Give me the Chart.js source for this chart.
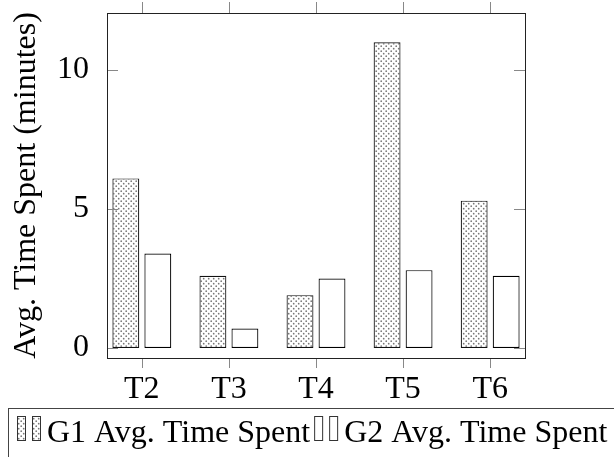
<!DOCTYPE html>
<html>
<head>
<meta charset="utf-8">
<script src="https://cdn.jsdelivr.net/npm/chart.js@4"></script>
<style>
  html, body { margin: 0; padding: 0; background: #fff; }
</style>
</head>
<body>
<canvas id="chart" width="614" height="457"></canvas>
<script>
const tasks = ['T2', 'T3', 'T4', 'T5', 'T6'];
const g1Time = [6.1, 2.6, 1.9, 11.0, 5.3];
const g2Time = [3.4, 0.7, 2.5, 2.8, 2.6];
const yTicks = [0, 5, 10];
const seriesNames = ['G1 Avg. Time Spent', 'G2 Avg. Time Spent'];

const serif = '"Liberation Serif", "DejaVu Serif", serif';

// dotted fill like the pgfplots "crosshatch dots" pattern
function makeDots() {
  const c = document.createElement('canvas');
  c.width = 5; c.height = 5;
  const g = c.getContext('2d');
  g.fillStyle = '#fff';
  g.fillRect(0, 0, 5, 5);
  g.fillStyle = '#777';
  [[1.2, 1.2], [3.7, 3.7]].forEach(p => {
    g.beginPath();
    g.arc(p[0], p[1], 0.85, 0, Math.PI * 2);
    g.fill();
  });
  return document.getElementById('chart').getContext('2d').createPattern(c, 'repeat');
}
const dots = makeDots();
const fills = [dots, '#fff'];

//============= frame, ticks and legend ===========
const framePlugin = {
  id: 'frame',
  afterDatasetsDraw(chart) {
    const ctx = chart.ctx;
    const a = chart.chartArea;
    const xs = chart.scales.x, ys = chart.scales.y;
    ctx.save();
    ctx.lineWidth = 1;
    ctx.strokeStyle = '#888';
    ctx.beginPath();
    tasks.forEach((t, i) => {
      const px = Math.round(xs.getPixelForValue(i)) + 0.5;
      ctx.moveTo(px, a.bottom); ctx.lineTo(px, a.bottom + 10);
      ctx.moveTo(px, a.top); ctx.lineTo(px, a.top - 11);
    });
    yTicks.forEach(v => {
      const py = Math.round(ys.getPixelForValue(v)) + 0.5;
      ctx.moveTo(a.left, py); ctx.lineTo(a.left + 11, py);
      ctx.moveTo(a.right, py); ctx.lineTo(a.right - 11, py);
    });
    ctx.stroke();
    ctx.strokeStyle = '#222';
    ctx.strokeRect(Math.round(a.left) + 0.5, Math.round(a.top) + 0.5,
      Math.round(a.right - a.left), Math.round(a.bottom - a.top));

    // legend
    const top = 408;
    ctx.strokeStyle = '#444';
    ctx.strokeRect(8.5, top + 0.5, 700, 100);
    ctx.font = '32px ' + serif;
    ctx.textBaseline = 'alphabetic';
    ctx.fillStyle = '#000';
    let x = 17;
    seriesNames.forEach((name, k) => {
      [0, 15].forEach(dx => {
        ctx.fillStyle = fills[k];
        ctx.fillRect(x + dx, top + 8, 9, 25);
        ctx.strokeStyle = '#333';
        ctx.strokeRect(x + dx + 0.5, top + 8.5, 8, 24);
      });
      ctx.fillStyle = '#000';
      ctx.fillText(name, x + 30, top + 34);
      x += 30 + ctx.measureText(name).width + 4;
    });
    ctx.restore();
  }
};

new Chart(document.getElementById('chart'), {
  type: 'bar',
  data: {
    datasets: [
      {
        label: seriesNames[0],
        data: g1Time.map((v, i) => ({ x: i, y: v })),
        backgroundColor: dots,
        borderColor: '#111',
        borderWidth: 1.2,
        borderSkipped: false
      },
      {
        label: seriesNames[1],
        data: g2Time.map((v, i) => ({ x: i, y: v })),
        backgroundColor: '#fff',
        borderColor: '#000',
        borderWidth: 1.2,
        borderSkipped: false
      }
    ]
  },
  options: {
    responsive: false,
    animation: false,
    devicePixelRatio: 1,
    categoryPercentage: 0.735,
    barPercentage: 0.84,
    layout: { padding: { top: 13, right: 89, left: 0, bottom: 0 } },
    plugins: { legend: { display: false }, tooltip: { enabled: false } },
    scales: {
      x: {
        type: 'linear',
        offset: false,
        min: -0.4,
        max: 4.4,
        afterBuildTicks: s => { s.ticks = tasks.map((t, i) => ({ value: i })); },
        afterFit: s => { s.height = 99; s.paddingLeft = 0; s.paddingRight = 0; },
        grid: { display: false },
        border: { display: false },
        ticks: {
          autoSkip: false,
          maxRotation: 0,
          padding: 4,
          color: '#000',
          font: { family: serif, size: 32 },
          callback: v => tasks[v]
        }
      },
      y: {
        min: -0.36,
        max: 12.05,
        afterBuildTicks: s => { s.ticks = yTicks.map(v => ({ value: v })); },
        afterFit: s => { s.width = 107; s.paddingTop = 0; s.paddingBottom = 0; },
        grid: { display: false },
        border: { display: false },
        ticks: {
          padding: 10,
          color: '#000',
          font: { family: serif, size: 32 }
        },
        title: {
          display: true,
          text: 'Avg. Time Spent (minutes)',
          color: '#000',
          font: { family: serif, size: 32 },
          padding: { top: 7, bottom: 0 }
        }
      }
    }
  },
  plugins: [framePlugin]
});
</script>
</body>
</html>
